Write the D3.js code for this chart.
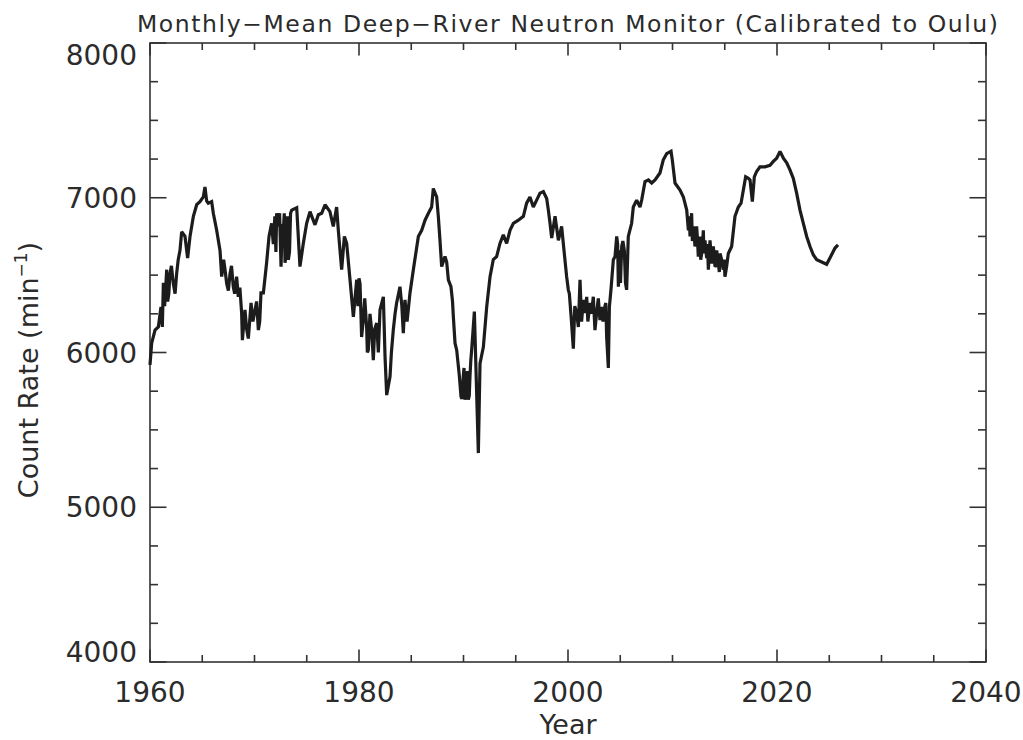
<!DOCTYPE html>
<html>
<head>
<meta charset="utf-8">
<script src="https://cdn.jsdelivr.net/npm/d3@7"></script>
<style>
  html, body { margin: 0; padding: 0; background: #fff; }
  svg text { font-family: "DejaVu Sans", "Liberation Sans", sans-serif; fill: #2b2b2b; }
</style>
</head>
<body>
<svg id="chart" width="1023" height="740"></svg>
<script>
// Deep River neutron monitor, monthly means scaled to Oulu (counts per minute)
const years = [
  1960.00,1960.16,1960.48,1960.80,1961.05,1961.18,1961.28,1961.60,1961.69,1961.91,
  1962.23,1962.55,1962.87,1963.03,1963.35,1963.60,1963.83,1964.15,1964.47,1964.78,
  1965.10,1965.26,1965.42,1965.58,1965.90,1966.06,1966.38,1966.70,1966.86,1967.18,
  1967.34,1967.66,1967.97,1968.29,1968.45,1968.77,1968.84,1969.09,1969.41,1969.67,
  1970.05,1970.37,1970.62,1970.85,1971.16,1971.39,1971.64,1972.12,1972.28,1972.54,
  1972.76,1972.92,1973.08,1973.24,1973.56,1974.04,1974.35,1974.67,1974.99,1975.31,
  1975.79,1976.11,1976.43,1976.75,1977.22,1977.54,1977.86,1978.02,1978.34,1978.60,
  1978.82,1979.14,1979.46,1979.78,1980.10,1980.41,1980.73,1980.89,1981.21,1981.37,
  1981.69,1982.01,1982.33,1982.49,1982.65,1982.97,1983.28,1983.60,1983.92,1984.24,
  1984.40,1984.88,1985.20,1985.68,1986.00,1986.32,1986.64,1986.95,1987.11,1987.43,
  1987.59,1987.75,1987.91,1988.23,1988.39,1988.55,1988.80,1989.03,1989.19,1989.35,
  1989.51,1989.76,1989.98,1990.14,1990.30,1990.46,1990.62,1990.78,1991.04,1991.16,
  1991.42,1991.58,1991.90,1992.22,1992.54,1992.85,1993.17,1993.49,1993.81,1994.13,
  1994.45,1994.77,1995.25,1995.73,1996.04,1996.36,1996.68,1997.00,1997.32,1997.64,
  1997.96,1998.12,1998.28,1998.44,1998.76,1999.08,1999.39,1999.55,1999.87,2000.03,
  2000.13,2000.30,2000.51,2000.83,2000.99,2001.15,2001.47,2001.63,2001.79,2002.11,
  2002.42,2002.58,2002.74,2003.06,2003.22,2003.54,2003.70,2003.86,2003.96,2004.11,
  2004.34,2004.50,2004.66,2004.82,2004.98,2005.14,2005.39,2005.61,2005.77,2006.09,
  2006.25,2006.57,2006.89,2007.05,2007.37,2007.69,2008.01,2008.33,2008.80,2009.12,
  2009.44,2009.86,2009.98,2010.24,2010.72,2011.04,2011.36,2011.52,2011.68,2011.83,
  2011.99,2012.15,2012.31,2012.47,2012.63,2012.79,2012.95,2013.11,2013.27,2013.43,
  2013.59,2013.75,2013.91,2014.07,2014.23,2014.39,2014.55,2014.70,2014.86,2015.02,
  2015.18,2015.34,2015.66,2015.98,2016.30,2016.56,2016.78,2017.00,2017.26,2017.42,
  2017.64,2017.83,2018.05,2018.37,2018.85,2019.33,2019.65,2019.97,2020.29,2020.61,
  2020.93,2021.24,2021.56,2021.88,2022.20,2022.52,2022.84,2023.16,2023.48,2023.80,
  2024.28,2024.75,2025.14,2025.55,2025.84
];
const counts = [
  5920,6060,6145,6165,6295,6165,6450,6535,6330,6510,
  6445,6510,6660,6780,6750,6610,6750,6880,6955,6975,
  7005,7070,6980,6965,6975,6900,6790,6660,6490,6535,
  6445,6510,6425,6490,6360,6255,6080,6275,6090,6320,
  6275,6145,6385,6385,6580,6750,6835,6900,6815,6555,
  6790,6580,6790,6600,6920,6935,6555,6705,6835,6910,
  6825,6890,6900,6955,6910,6815,6940,6790,6535,6750,
  6705,6470,6230,6470,6445,6210,6165,6015,6145,5950,
  6190,6275,6360,5975,5725,5845,6145,6320,6425,6125,
  6340,6385,6535,6750,6790,6855,6900,6940,7060,7005,
  6880,6725,6555,6620,6585,6470,6425,6230,6060,6015,
  5910,5715,5845,5695,5800,5695,5845,6015,6265,5975,
  5350,5930,6035,6295,6490,6600,6620,6705,6760,6705,
  6790,6835,6855,6880,6965,7005,6940,6985,7030,7040,
  6995,6920,6835,6740,6880,6725,6815,6705,6490,6405,
  6380,6230,6025,6255,6165,6470,6340,6255,6360,6320,
  6360,6145,6255,6210,6295,6300,6100,5900,6295,6405,
  6600,6620,6750,6425,6660,6685,6660,6405,6750,6835,
  6940,6985,6940,6985,7105,7115,7095,7115,7160,7245,
  7285,7300,7245,7095,7050,7005,6920,6790,6750,6900,
  6815,6685,6815,6620,6750,6640,6790,6725,6610,6535,
  6725,6575,6685,6555,6660,6575,6640,6600,6535,6490,
  6555,6640,6685,6880,6940,6965,7050,7135,7125,7115,
  6975,7135,7170,7200,7200,7210,7235,7255,7300,7255,
  7225,7180,7125,7030,6920,6835,6750,6685,6630,6600,
  6585,6570,6620,6675,6695
];

// Month-to-month excursions during the active phases of the solar cycle
const activeYears = [
  1961.40,1961.80,1962.05,1962.40,1962.70,
  1967.05,1967.50,1967.80,1968.10,1968.60,
  1969.25,1969.85,1970.20,1970.50,
  1971.80,1971.95,1972.05,1972.40,1972.65,1972.85,1973.00,1973.15,1973.35,1973.45,
  1979.90,1980.00,1980.25,1980.55,1980.80,1981.05,1981.50,1981.85,
  1983.10,1983.45,1984.10,1984.60,
  1988.95,1989.60,1989.85,1990.05,1990.20,1990.38,1990.55,1990.70,
  2000.65,2001.30,2001.90,2002.25,2002.90,2003.35,2003.62,
  2004.75,2005.02,2005.25,2005.50,
  2011.60,2011.90,2012.05,2012.40,2012.70,2012.88,2013.00,2013.35,2014.15,2014.48,2014.95
];
const activeCounts = [
  6300,6380,6560,6380,6600,
  6600,6400,6560,6380,6420,
  6150,6200,6330,6200,
  6700,6880,6650,6900,6830,6900,6620,6880,6650,6900,
  6300,6480,6100,6350,6000,6250,6150,6000,
  6000,6250,6300,6200,
  6330,5850,5700,5900,5720,5880,5720,5950,
  6300,6200,6200,6250,6350,6200,6320,
  6700,6450,6720,6450,
  6880,6720,6780,6720,6600,6700,6640,6700,6560,6520,6600
];

const xDomain = [1960, 2040];
const yDomain = [4000, 8000];
const xMajorTicks = [1960, 1980, 2000, 2020, 2040];
const yMajorTicks = [4000, 5000, 6000, 7000, 8000];
const xMinorStep = 5;
const yMinorStep = 250;

const titleText = "Monthly\u2212Mean Deep\u2212River Neutron Monitor (Calibrated to Oulu)";
const xTitle = "Year";

const svg = d3.select("#chart");
const plotLeft = 150, plotRight = 986, plotTop = 43, plotBottom = 662;

const x = d3.scaleLinear().domain(xDomain).range([plotLeft, plotRight]);
const y = d3.scaleLinear().domain(yDomain).range([plotBottom, plotTop]);

const axisColor = "#333";
const xMajorLen = 12.5, xMinorLen = 7;
const yMajorLen = 16.5, yMinorLen = 8;

const xMinor = d3.range(xDomain[0], xDomain[1] + 0.001, xMinorStep).filter(v => !xMajorTicks.includes(v));
const yMinor = d3.range(yDomain[0], yDomain[1] + 0.001, yMinorStep).filter(v => !yMajorTicks.includes(v));

// Frame
svg.append("rect")
  .attr("x", plotLeft).attr("y", plotTop)
  .attr("width", plotRight - plotLeft).attr("height", plotBottom - plotTop)
  .attr("fill", "none").attr("stroke", axisColor).attr("stroke-width", 1.6);

const ticks = svg.append("g").attr("stroke", axisColor).attr("stroke-width", 1.6);

// Bottom and top ticks, pointing inward
[[xMajorTicks, xMajorLen], [xMinor, xMinorLen]].forEach(([vals, len]) => {
  ticks.selectAll(null).data(vals).enter().append("line")
    .attr("x1", d => x(d)).attr("x2", d => x(d))
    .attr("y1", plotBottom).attr("y2", plotBottom - len);
  ticks.selectAll(null).data(vals).enter().append("line")
    .attr("x1", d => x(d)).attr("x2", d => x(d))
    .attr("y1", plotTop).attr("y2", plotTop + len);
});
// Left and right ticks, pointing inward
[[yMajorTicks, yMajorLen], [yMinor, yMinorLen]].forEach(([vals, len]) => {
  ticks.selectAll(null).data(vals).enter().append("line")
    .attr("y1", d => y(d)).attr("y2", d => y(d))
    .attr("x1", plotLeft).attr("x2", plotLeft + len);
  ticks.selectAll(null).data(vals).enter().append("line")
    .attr("y1", d => y(d)).attr("y2", d => y(d))
    .attr("x1", plotRight).attr("x2", plotRight - len);
});

// Tick labels
svg.append("g").selectAll("text").data(xMajorTicks).enter().append("text")
  .attr("x", d => x(d)).attr("y", 702)
  .attr("text-anchor", "middle").attr("font-size", 28)
  .text(d => d);

svg.append("g").selectAll("text").data(yMajorTicks).enter().append("text")
  .attr("x", 137)
  .attr("y", d => {
    let cy = y(d);
    if (d === yDomain[1]) cy += 12;
    if (d === yDomain[0]) cy -= 10;
    return cy + 10;
  })
  .attr("text-anchor", "end").attr("font-size", 28)
  .text(d => d);

// Titles
svg.append("text")
  .attr("x", 567.5).attr("y", 32)
  .attr("text-anchor", "middle").attr("font-size", 23.5)
  .attr("textLength", 861).attr("lengthAdjust", "spacing")
  .text(titleText);

svg.append("text")
  .attr("x", (plotLeft + plotRight) / 2).attr("y", 734)
  .attr("text-anchor", "middle").attr("font-size", 27)
  .text(xTitle);

const yLab = svg.append("text")
  .attr("transform", "translate(38,370) rotate(-90)")
  .attr("text-anchor", "middle").attr("font-size", 27);
yLab.append("tspan").text("Count Rate (min");
yLab.append("tspan").attr("font-size", 17).attr("dy", -11).text("\u22121");
yLab.append("tspan").attr("dy", 11).text(")");

// Count-rate curve
const pts = years.map((yr, i) => [yr, counts[i]])
  .concat(activeYears.map((yr, i) => [yr, activeCounts[i]]))
  .sort((a, b) => a[0] - b[0]);
const line = d3.line().x(d => x(d[0])).y(d => y(d[1]));
svg.append("path")
  .datum(pts)
  .attr("d", line)
  .attr("fill", "none")
  .attr("stroke", "#1c1c1c")
  .attr("stroke-width", 3.2)
  .attr("stroke-linejoin", "miter")
  .attr("stroke-miterlimit", 2);
</script>
</body>
</html>
